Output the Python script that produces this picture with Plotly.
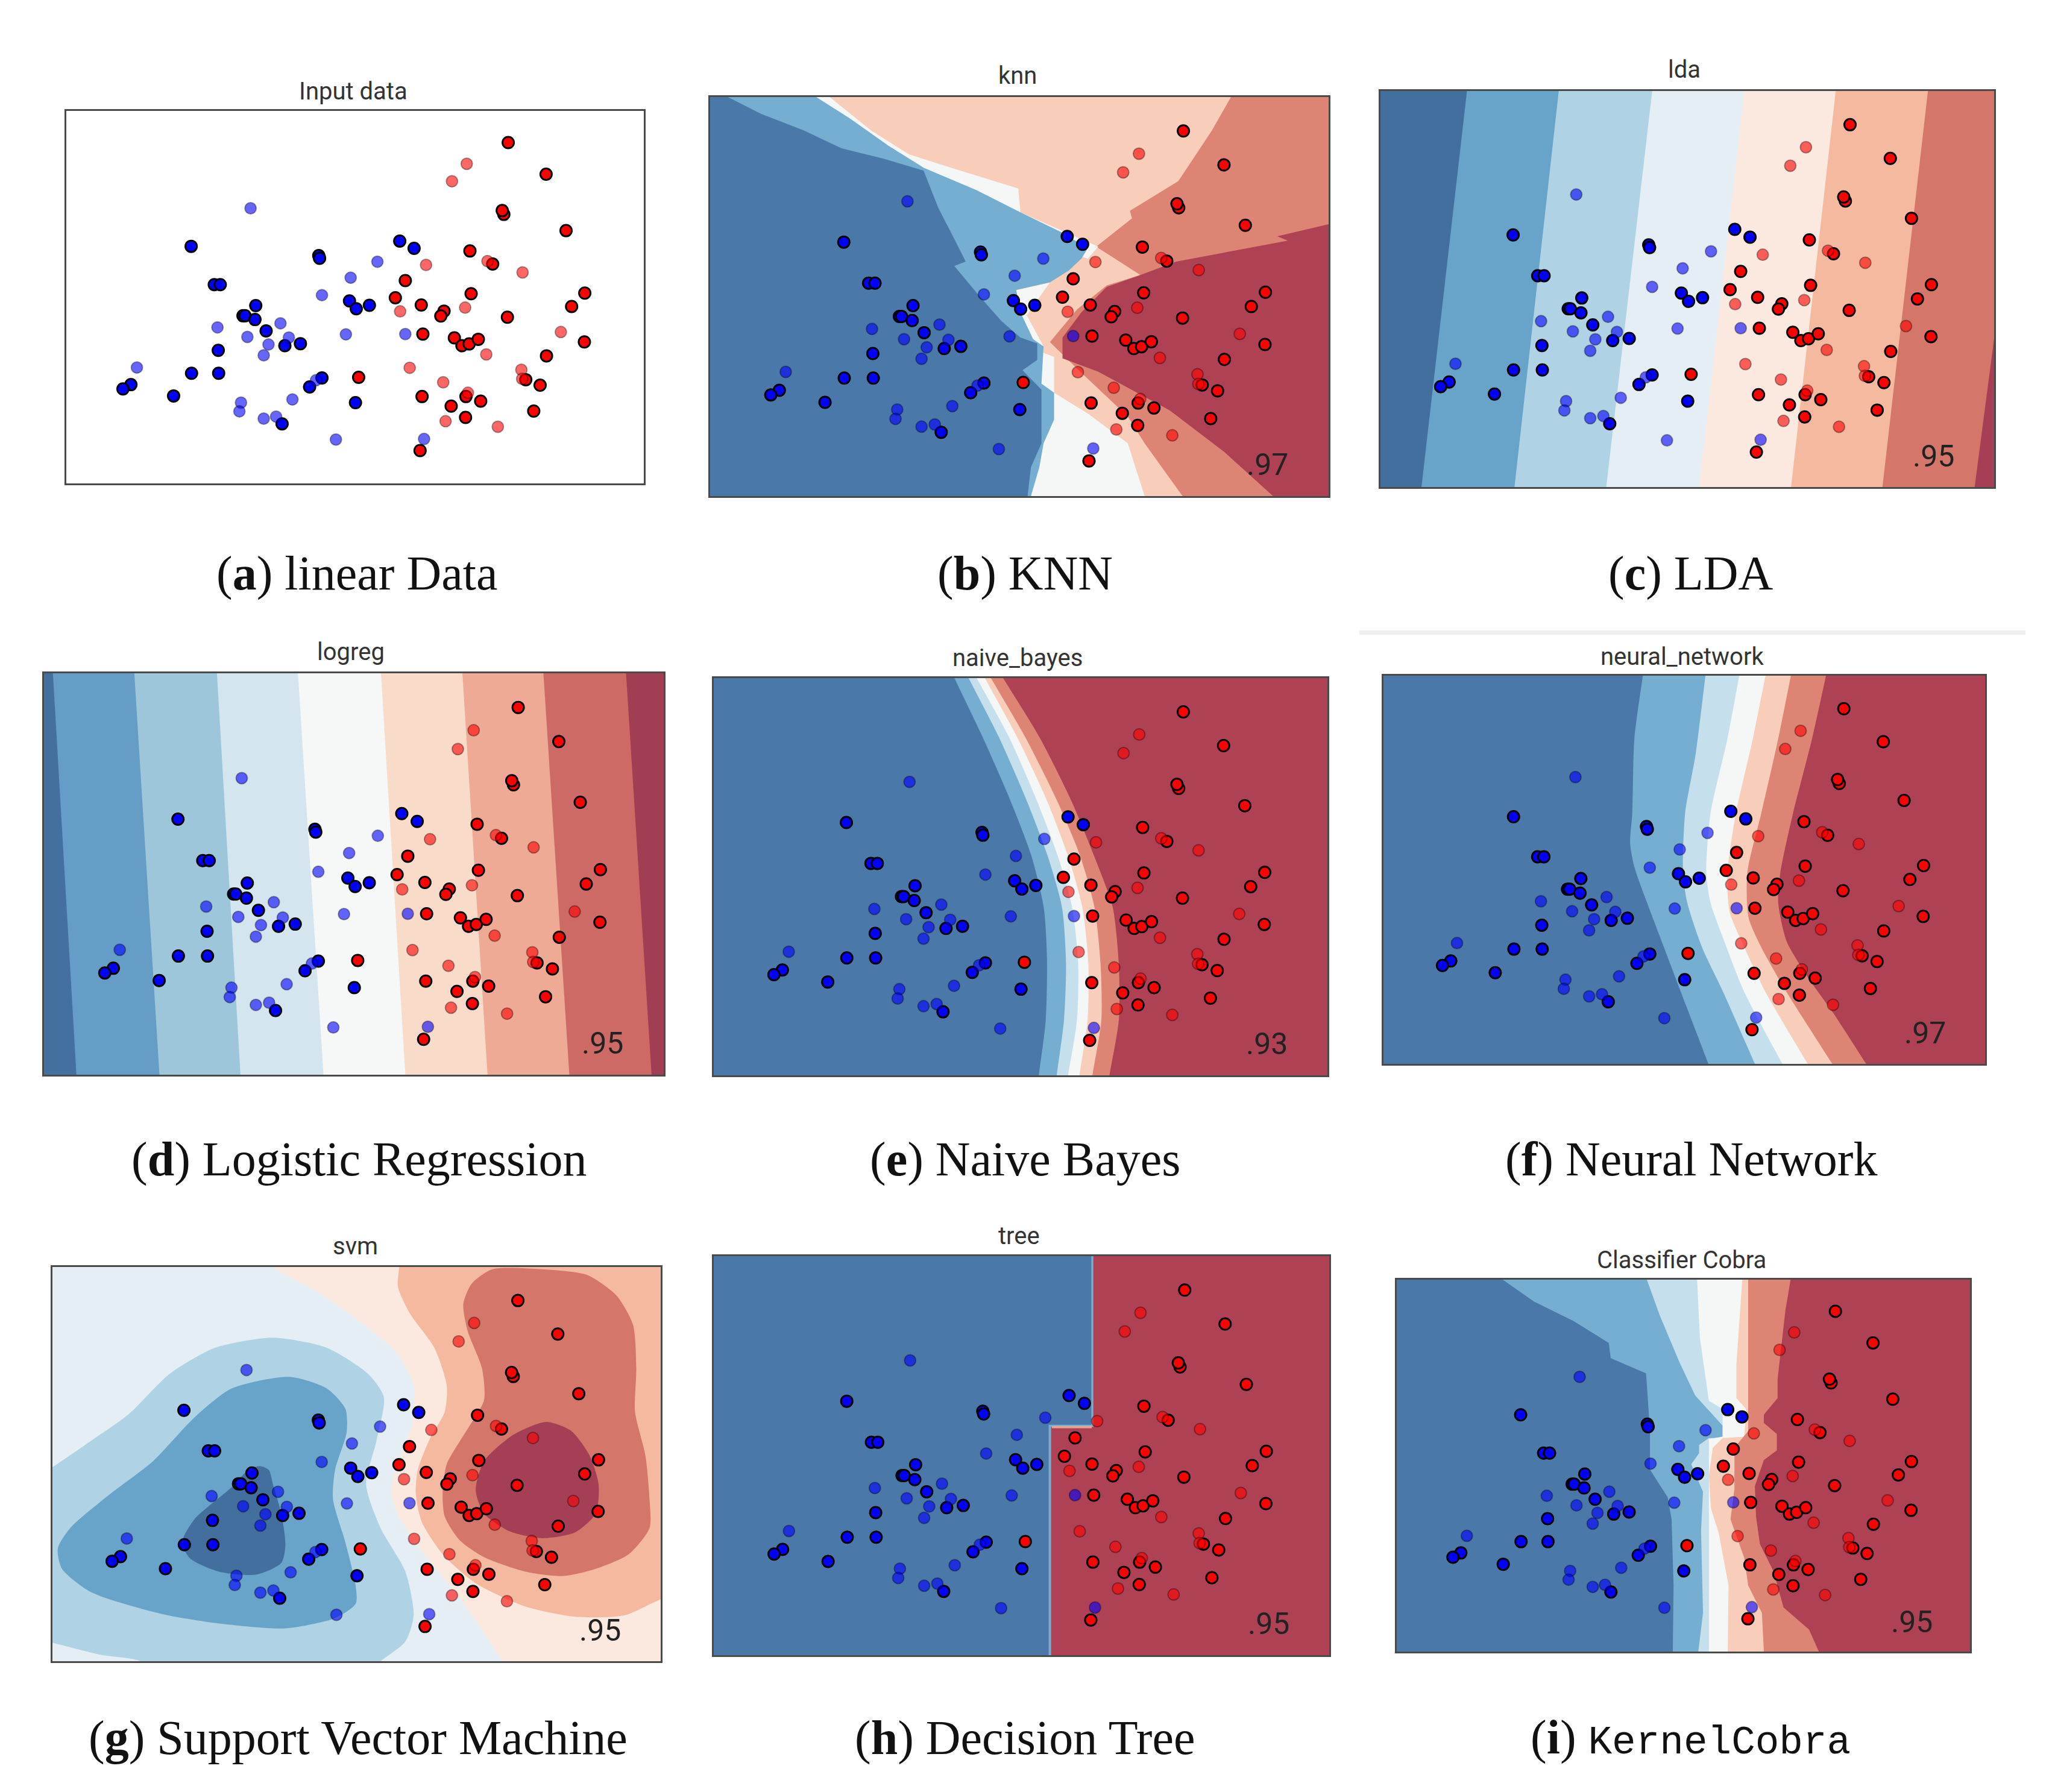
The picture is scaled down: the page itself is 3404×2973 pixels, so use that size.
import plotly.graph_objects as go

W, H = 3404, 2973

A_FRAME = (44, 1492, 128, 1410)
train_blue_x = [357,677,679,415,430,519,487,492,517,545,592,631,425,358,426,206,186,313,685,654,769,585,880,916,754,771,804]
train_blue_y = [594,626,635,726,726,798,833,833,846,885,936,929,952,1031,1031,1070,1085,1109,1047,1078,1132,1205,576,601,782,809,797]
test_blue_x = [506,824,757,685,423,581,498,602,551,539,745,894,221,670,611,482,478,539,570,720,941]
test_blue_y = [463,647,702,762,873,859,906,908,932,969,897,896,1011,1055,1121,1132,1162,1187,1180,1259,1257]
train_red_x = [1152,1247,1141,1137,1297,1056,1113,894,869,934,1059,991,983,1344,1311,1150,938,1017,1036,1054,1077,1343,1248,777,1196,1232,936,1046,1083,1009,1216,1045,931]
train_red_y = [237,346,484,471,540,610,655,712,771,796,757,817,834,755,801,838,896,909,936,930,914,923,971,1045,1053,1072,1111,1111,1127,1144,1161,1183,1297]
test_red_x = [1048,1011,946,1100,1188,881,1044,1284,1097,905,989,1185,1187,1051,995,1126]
test_red_y = [310,370,658,645,684,818,805,889,966,1012,1062,1019,1050,1098,1196,1215]

# ---------- palette ----------
BLUE_D = "#4a79a9"; BLUE_M = "#75aed1"; BLUE_L = "#c6dfec"; WHITE = "#f5f7f7"
PEACH = "#f8cdb9"; SALMON = "#de8475"; RED_D = "#ae4154"
L0 = "#436f9f"; L1 = "#68a3c9"; L2 = "#afd2e4"; L3 = "#e5eef4"; L4 = "#fbe9df"; L5 = "#f5b9a0"; L6 = "#d5766a"; L7 = "#a53f55"
M0 = "#44709f"; M1 = "#659dc6"; M2 = "#9dc6db"; M3 = "#d4e5ef"; M4 = "#f6f7f7"; M5 = "#f9dbc9"; M6 = "#eeaa94"; M7 = "#ce6a65"; M8 = "#a23e54"

# ---------- decision regions, one named outline per region ----------
KNN_FRAME = (8, 1477, 138, 1477)
knn_salmon_top = [(1245,138),(1477,138),(1477,800),(1030,800),(1030,735),(925,640),(1010,545),(1005,520),(1120,420),(1200,250)]
knn_salmon_low = [(815,960),(880,1050),(1000,1210),(1040,1300),(1130,1477),(1477,1477),(1477,565),(1030,735),(950,770),(880,850)]
knn_red = [(1477,565),(1355,605),(1380,620),(1115,690),(1030,735),(950,775),(890,860),(845,945),(845,1015),(930,1060),(1100,1190),(1230,1330),(1345,1477),(1477,1477)]
knn_white_low = [(760,975),(825,1010),(825,1130),(905,1200),(1000,1300),(1040,1477),(760,1477)]
knn_white_up = [(258,138),(292,138),(390,250),(480,330),(580,375),(740,445),(745,525),(930,640),(905,680),(300,400)]
knn_white_mid = [(725,790),(815,760),(760,870),(800,975),(750,975)]
knn_blue_mid = [(50,138),(260,138),(340,210),(430,300),(515,375),(640,450),(745,525),(840,590),(905,645),(890,680),(860,720),(815,760),(735,785),(745,860),(775,950),(800,975),(795,1100),(825,1130),(825,1220),(800,1300),(790,1380),(770,1477),(700,1477),(500,700)]
knn_blue_dark = [(8,138),(50,138),(130,195),(230,250),(320,310),(420,345),(515,385),(550,510),(590,620),(615,690),(588,705),(650,810),(700,890),(745,945),(785,965),(785,1020),(750,1055),(795,1120),(795,1300),(770,1380),(762,1477),(8,1477)]

LDA_FRAME = (12, 1523, 125, 1525)
lda_b1 = [(225,125),(113,1525)]
lda_b2 = [(451,125),(342,1525)]
lda_b3 = [(681,125),(568,1525)]
lda_b4 = [(908,125),(797,1525)]
lda_b5 = [(1133,125),(1023,1525)]
lda_b6 = [(1360,125),(1248,1525)]
lda_b7 = [(1523,1000),(1475,1525)]

LOG_FRAME = (15, 1545, 73, 1492)
log_b1 = [(37,73),(95,1492)]
log_b2 = [(238,73),(300,1492)]
log_b3 = [(442,73),(500,1492)]
log_b4 = [(642,73),(705,1492)]
log_b5 = [(847,73),(907,1492)]
log_b6 = [(1048,73),(1110,1492)]
log_b7 = [(1248,73),(1312,1492)]
log_b8 = [(1452,73),(1515,1492)]

NB_FRAME = (17, 1529, 90, 1495)
nb_b1 = [(610,90),(680,300),(750,530),(800,720),(830,900),(838,1080),(835,1300),(818,1495)]
nb_b2 = [(645,90),(720,300),(790,530),(840,720),(875,900),(885,1100),(880,1300),(862,1495)]
nb_b3 = [(665,90),(745,300),(815,530),(865,720),(900,900),(915,1100),(912,1300),(890,1495)]
nb_b4 = [(685,90),(765,300),(840,530),(890,720),(925,900),(940,1100),(938,1300),(918,1495)]
nb_b5 = [(700,90),(785,300),(865,530),(920,720),(955,900),(970,1100),(972,1300),(950,1495)]
nb_b6 = [(730,90),(820,300),(900,530),(960,740),(1000,900),(1015,1100),(1015,1300),(992,1495)]

NN_FRAME = (-3, 1419, 138, 1441)
nn_b1 = [(610,138),(590,350),(585,600),(580,700),(590,780),(620,900),(660,1050),(700,1200),(765,1441)]
nn_b2 = [(758,138),(735,400),(710,600),(705,800),(715,900),(750,1050),(800,1200),(875,1441)]
nn_b3 = [(838,138),(810,350),(770,600),(760,800),(770,900),(800,1020),(850,1200),(940,1441)]
nn_b4 = [(900,138),(870,350),(830,600),(810,800),(815,930),(850,1050),(900,1200),(1000,1441)]
nn_b5 = [(960,138),(930,350),(890,600),(857,800),(860,950),(890,1050),(950,1200),(1058,1441)]
nn_b6 = [(1043,138),(1010,350),(965,600),(935,800),(930,900),(950,1030),(1000,1150),(1060,1270),(1138,1441)]

SVM_FRAME = (37, 1507, 102, 1458)
svm_peach = [(530,40),(570,102),(680,190),(790,300),(870,400),(910,510),(905,650),(870,780),(855,870),(870,950),(930,1080),(1010,1220),(1075,1350),(1125,1458),(1160,1520),(1650,1520),(1650,40)]
svm_salmon = [(875,40),(875,102),(872,170),(900,260),(960,380),(990,510),(985,600),(950,690),(920,800),(915,880),(930,980),(980,1090),(1060,1190),(1180,1270),(1300,1305),(1420,1300),(1507,1245),(1650,1180),(1650,40)]
svm_rose = [(1100,110),(1220,110),(1330,130),(1400,200),(1440,300),(1448,450),(1445,600),(1470,750),(1480,900),(1480,1000),(1430,1090),(1350,1140),(1270,1165),(1180,1150),(1080,1100),(1020,1040),(985,960),(980,880),(990,780),(1040,660),(1080,560),(1075,450),(1040,320),(1030,230),(1050,160)]
svm_red = [(1230,635),(1290,665),(1335,750),(1357,850),(1350,950),(1300,1015),(1220,1035),(1140,1010),(1080,950),(1060,870),(1080,770),(1150,680)]
svm_sky = [(-60,880),(38,790),(130,700),(220,610),(320,470),(430,380),(570,345),(700,380),(800,470),(838,550),(820,700),(795,850),(830,1000),(890,1150),(910,1300),(890,1390),(830,1458),(780,1520),(300,1520),(250,1458),(150,1435),(38,1395),(-60,1360)]
svm_blue = [(610,480),(700,520),(745,590),(748,670),(720,800),(715,900),(745,1050),(770,1200),(770,1260),(720,1310),(600,1345),(450,1330),(300,1295),(130,1220),(60,1140),(50,1070),(80,1000),(170,890),(280,770),(380,620),(470,520)]
svm_navy = [(540,787),(560,800),(570,850),(590,950),(600,1060),(590,1120),(530,1160),(440,1150),(370,1105),(350,1050),(380,970),(470,860),(510,800)]

TREE_FRAME = (17, 1533, 68, 1478)
tree_edge = [(947,68),(947,664),(842,664),(842,1478)]
tree_split = [(952,68),(952,672),(848,672),(848,1478)]
tree_sliver = [(850,668),(948,668),(948,676),(850,676)]

COBRA_FRAME = (0, 1460, 90, 1440)
cobra_b1 = [(270,90),(350,170),(450,240),(540,320),(545,375),(635,430),(645,640),(645,780),(690,880),(700,960),(705,1200),(703,1440)]
cobra_b2 = [(637,90),(670,220),(720,390),(760,510),(830,620),(830,665),(795,665),(770,690),(770,720),(750,760),(780,860),(775,1000),(780,1300),(768,1440)]
cobra_b3 = [(765,90),(772,300),(795,530),(830,560),(830,660),(795,668),(795,1440)]
cobra_b4 = [(880,90),(865,400),(865,520),(890,560),(885,660),(830,665),(805,700),(795,800),(800,920),(820,1010),(845,1200),(843,1440)]
cobra_b5 = [(895,90),(895,640),(860,700),(860,850),(850,960),(885,1100),(895,1200),(930,1300),(935,1440)]
cobra_b6 = [(1003,90),(990,200),(970,450),(970,520),(935,580),(935,610),(968,650),(968,710),(935,745),(912,840),(915,950),(925,1050),(960,1150),(985,1280),(1050,1360),(1075,1440)]

# ---------- panel text ----------
titles = ["Input data","knn","lda","logreg","naive_bayes","neural_network","svm","tree","Classifier Cobra"]
scores = [None,".97",".95",".95",".93",".97",".95",".95",".95"]
captions = ["(<b>a</b>) linear Data","(<b>b</b>) KNN","(<b>c</b>) LDA","(<b>d</b>) Logistic Regression","(<b>e</b>) Naive Bayes","(<b>f</b>) Neural Network","(<b>g</b>) Support Vector Machine","(<b>h</b>) Decision Tree","(<b>i</b>) <span style=\"font-family:'Liberation Mono';font-size:66px\">KernelCobra</span>"]

# ---------- page layout, pixels: left, right, top, bottom ----------
frames_px = [(102,1060,176,794),(1170,2196,153,815),(2282,3300,143,800),
             (65,1093,1109,1775),(1176,2194,1117,1776),(2287,3285,1113,1757),
             (79,1088,2094,2748),(1176,2197,2076,2738),(2309,3260,2115,2732)]
title_px = [(578,143),(1680,117),(2786,107),(574,1074),(1680,1083),(2782,1081),(581,2059),(1682,2042),(2781,2082)]
caption_px = [(584,944),(1692,944),(2796,944),(587,1915),(1692,1915),(2798,1915),(586,2875),(1692,2875),(2796,2875)]

def full(frame):
    l, r, t, b = frame
    return [(l,t),(r,t),(r,b),(l,b)]

def bands(bounds, colours, frame):
    """Paint each colour from its boundary to beyond the right edge; the first colour fills the frame.
    Each boundary runs on past the frame along its end segments so that curve ends stay hidden."""
    l, r, t, b = frame
    out = [(colours[0], full(frame))]
    for c, bd in zip(colours[1:], bounds):
        (x0, y0), (x1, y1) = bd[0], bd[1]
        (x8, y8), (x9, y9) = bd[-2], bd[-1]
        head = (x0 - (x1 - x0) * 150 / (y1 - y0), y0 - 150)
        tail = (x9 + (x9 - x8) * 150 / (y9 - y8), y9 + 150)
        out.append((c, [head] + list(bd) + [tail, (r + 500, b + 250), (r + 500, t - 250), head]))
    return out

panels = [
    (A_FRAME, [], False),
    (KNN_FRAME, [(PEACH, full(KNN_FRAME)),(SALMON,knn_salmon_top),(SALMON,knn_salmon_low),(RED_D,knn_red),
                 (WHITE,knn_white_low),(WHITE,knn_white_up),(WHITE,knn_white_mid),(BLUE_M,knn_blue_mid),(BLUE_D,knn_blue_dark)], False),
    (LDA_FRAME, bands([lda_b1,lda_b2,lda_b3,lda_b4,lda_b5,lda_b6,lda_b7],[L0,L1,L2,L3,L4,L5,L6,L7],LDA_FRAME), False),
    (LOG_FRAME, bands([log_b1,log_b2,log_b3,log_b4,log_b5,log_b6,log_b7,log_b8],[M0,M1,M2,M3,M4,M5,M6,M7,M8],LOG_FRAME), False),
    (NB_FRAME, bands([nb_b1,nb_b2,nb_b3,nb_b4,nb_b5,nb_b6],[BLUE_D,BLUE_M,BLUE_L,WHITE,PEACH,SALMON,RED_D],NB_FRAME), True),
    (NN_FRAME, bands([nn_b1,nn_b2,nn_b3,nn_b4,nn_b5,nn_b6],[BLUE_D,BLUE_M,BLUE_L,WHITE,PEACH,SALMON,RED_D],NN_FRAME), True),
    (SVM_FRAME, [(L3,full(SVM_FRAME)),(L4,svm_peach),(L5,svm_salmon),(L6,svm_rose),(L7,svm_red),(L2,svm_sky),(L1,svm_blue),(L0,svm_navy)], True),
    (TREE_FRAME, bands([tree_edge,tree_split],[BLUE_D,BLUE_M,RED_D],TREE_FRAME) + [("#e6a594",tree_sliver)], False),
    (COBRA_FRAME, bands([cobra_b1,cobra_b2,cobra_b3,cobra_b4,cobra_b5,cobra_b6],[BLUE_D,BLUE_M,BLUE_L,WHITE,PEACH,SALMON,RED_D],COBRA_FRAME), False),
]

def norm_x(xs, fr): return [(x - fr[0]) / (fr[1] - fr[0]) for x in xs]
def norm_y(ys, fr): return [1 - (y - fr[2]) / (fr[3] - fr[2]) for y in ys]

fig = go.Figure()
layout = {}
annotations = []
point_sets = [
    (train_blue_x, train_blue_y, "rgb(0,0,255)", "black", 3),
    (train_red_x, train_red_y, "rgb(255,0,0)", "black", 3),
    (test_blue_x, test_blue_y, "rgba(0,0,255,0.6)", "rgba(0,0,0,0.35)", 2),
    (test_red_x, test_red_y, "rgba(255,0,0,0.6)", "rgba(0,0,0,0.35)", 2),
]
TITLE_FONT = dict(family="Roboto", size=40, color="#333333")
for i, (frame, regions, smooth) in enumerate(panels):
    n = "" if i == 0 else str(i + 1)
    xa, ya = "x" + n, "y" + n
    for colour, outline in regions:
        pts = list(outline) + [outline[0]] if smooth else outline
        fig.add_trace(go.Scatter(
            x=norm_x([p[0] for p in pts], frame), y=norm_y([p[1] for p in pts], frame),
            xaxis=xa, yaxis=ya, mode="lines",
            line=dict(width=0, shape="spline" if smooth and len(pts) > 5 else "linear", smoothing=0.7),
            fill="toself", fillcolor=colour, hoverinfo="skip", showlegend=False))
    for xs, ys, fc, lc, lw in point_sets:
        fig.add_trace(go.Scatter(
            x=norm_x(xs, A_FRAME), y=norm_y(ys, A_FRAME), xaxis=xa, yaxis=ya, mode="markers",
            marker=dict(size=19, color=fc, line=dict(color=lc, width=lw)), showlegend=False))
    l, r, t, b = frames_px[i]
    common = dict(range=[0, 1], showgrid=False, zeroline=False, showticklabels=False, ticks="",
                  showline=True, mirror=True, linecolor="#4a4a4a", linewidth=3, fixedrange=True)
    layout["xaxis" + n] = dict(domain=[l / W, r / W], anchor=ya, **common)
    layout["yaxis" + n] = dict(domain=[1 - b / H, 1 - t / H], anchor=xa, **common)
    tx, ty = title_px[i]
    annotations.append(dict(text=titles[i], x=tx / W, y=1 - ty / H, xref="paper", yref="paper",
                            showarrow=False, xanchor="center", yanchor="middle", font=TITLE_FONT))
    if scores[i]:
        annotations.append(dict(text=scores[i], x=0.933, y=0.054, xref=xa, yref=ya, showarrow=False,
                                xanchor="right", yanchor="bottom", borderpad=0,
                                yshift=-14, xshift=3, font=dict(family="Roboto", size=50, color="#222222")))
    cx, cy = caption_px[i]
    annotations.append(dict(text=captions[i], x=cx / W, y=1 - cy / H, xref="paper", yref="paper",
                            showarrow=False, xanchor="center", yanchor="middle",
                            font=dict(family="Liberation Serif", size=80, color="#111111")))

fig.update_layout(width=W, height=H, margin=dict(l=0, r=0, t=0, b=0), autosize=False,
                  paper_bgcolor="white", plot_bgcolor="white", showlegend=False,
                  annotations=annotations,
                  shapes=[dict(type="rect", xref="paper", yref="paper", x0=2247 / W, x1=3352 / W,
                               y0=1 - 1045 / H, y1=1 - 1038 / H, fillcolor="#eeeeee", line=dict(width=0))],
                  **layout)
fig.write_html("out.html")
